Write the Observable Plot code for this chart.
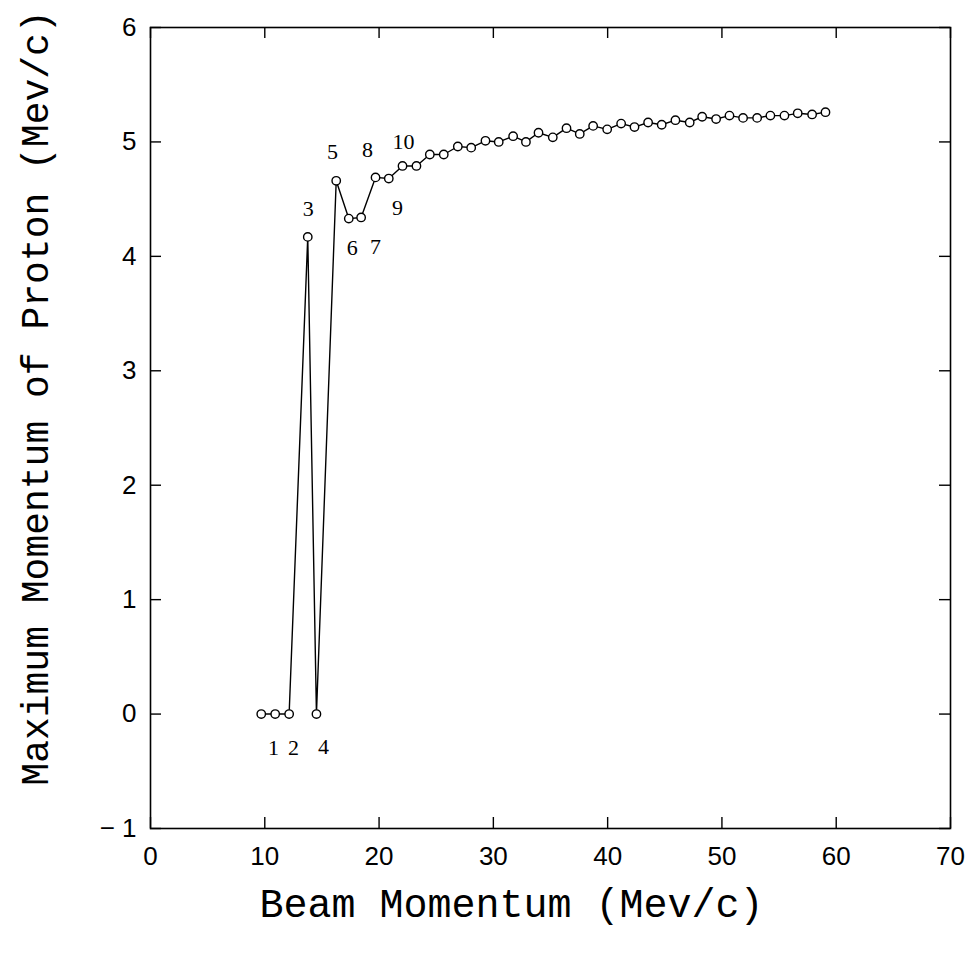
<!DOCTYPE html>
<html>
<head>
<meta charset="utf-8">
<script src="https://cdn.jsdelivr.net/npm/d3@7"></script>
<script src="https://cdn.jsdelivr.net/npm/@observablehq/plot@0.6"></script>
<style>
  html, body { margin: 0; padding: 0; background: #fff; }
  #chart svg { display: block; }
</style>
</head>
<body>
<div id="chart"></div>
<script>
// Beam momentum (x) and maximum proton momentum (y)
const beamMomentum = [
  9.69, 10.91, 12.13, 13.76, 14.52, 16.25, 17.35, 18.43, 19.69, 20.85,
  22.05, 23.27, 24.44, 25.66, 26.89, 28.06, 29.31, 30.47, 31.73, 32.85,
  33.95, 35.20, 36.40, 37.56, 38.73, 39.96, 41.18, 42.35, 43.54, 44.73,
  45.93, 47.18, 48.27, 49.49, 50.66, 51.85, 53.08, 54.24, 55.47, 56.63,
  57.89, 59.06
];
const protonMomentum = [
  0, 0, 0, 4.17, 0, 4.66, 4.33, 4.34, 4.69, 4.68,
  4.79, 4.79, 4.89, 4.89, 4.96, 4.95, 5.01, 5.00, 5.05, 5.00,
  5.08, 5.04, 5.12, 5.07, 5.14, 5.11, 5.16, 5.13, 5.17, 5.15,
  5.19, 5.17, 5.22, 5.20, 5.23, 5.21, 5.21, 5.23, 5.23, 5.25,
  5.24, 5.26
];
// Point annotations (label text and where it sits, in data units)
const annotationLabels = ["1", "2", "3", "4", "5", "6", "7", "8", "9", "10"];
const annotationX = [10.76, 12.51, 13.80, 15.14, 15.92, 17.65, 19.69, 18.99, 21.61, 22.13];
const annotationY = [-0.30, -0.30, 4.41, -0.29, 4.91, 4.07, 4.08, 4.93, 4.42, 5.00];

const xTicks = [0, 10, 20, 30, 40, 50, 60, 70];
const yTicks = [-1, 0, 1, 2, 3, 4, 5, 6];

const xTitle = "Beam Momentum (Mev/c)";
const yTitle = "Maximum Momentum of Proton (Mev/c)";

const points = beamMomentum.map((x, i) => ({x, y: protonMomentum[i]}));
const notes = annotationLabels.map((t, i) => ({t, x: annotationX[i], y: annotationY[i]}));

const W = 972, H = 961;
const mL = 150, mR = 22, mT = 27, mB = 133;
const fw = W - mL - mR, fh = H - mT - mB;
const tick = 11;

const chart = Plot.plot({
  width: W,
  height: H,
  marginLeft: mL,
  marginRight: mR,
  marginTop: mT,
  marginBottom: mB,
  x: {domain: [0, 70]},
  y: {domain: [-1, 6]},
  style: {background: "#fff", color: "#000"},
  marks: [
    Plot.axisX(xTicks, {
      tickSize: 0, tickPadding: 18, fontSize: 26,
      fontFamily: "Liberation Sans", label: null, tickFormat: d => String(d)
    }),
    Plot.axisY(yTicks, {
      tickSize: 0, tickPadding: 14, fontSize: 26,
      fontFamily: "Liberation Sans", label: null,
      tickFormat: d => d < 0 ? "\u2212 " + Math.abs(d) : String(d)
    }),
    // inward ticks on all four sides
    Plot.tickX(xTicks, {x: d => d, insetTop: fh - tick, stroke: "#000", strokeWidth: 1.4}),
    Plot.tickX(xTicks, {x: d => d, insetBottom: fh - tick, stroke: "#000", strokeWidth: 1.4}),
    Plot.tickY(yTicks, {y: d => d, insetRight: fw - tick, stroke: "#000", strokeWidth: 1.4}),
    Plot.tickY(yTicks, {y: d => d, insetLeft: fw - tick, stroke: "#000", strokeWidth: 1.4}),
    Plot.frame({stroke: "#000", strokeWidth: 1.6}),
    Plot.line(points, {x: "x", y: "y", stroke: "#000", strokeWidth: 1.4}),
    Plot.dot(points, {x: "x", y: "y", r: 4.2, fill: "#fff", stroke: "#000", strokeWidth: 1.4}),
    Plot.text(notes, {
      x: "x", y: "y", text: "t", fontSize: 22,
      fontFamily: "Liberation Serif", fill: "#000"
    }),
    Plot.text([xTitle], {
      frameAnchor: "bottom", textAnchor: "middle", dx: -39, dy: 88, fontSize: 40,
      fontFamily: "Liberation Mono", fill: "#000"
    }),
    Plot.text([yTitle], {
      frameAnchor: "left", textAnchor: "middle", dx: -115, dy: -30, rotate: -90, fontSize: 38,
      fontFamily: "Liberation Mono", fill: "#000"
    })
  ]
});
document.getElementById("chart").appendChild(chart);
</script>
</body>
</html>
